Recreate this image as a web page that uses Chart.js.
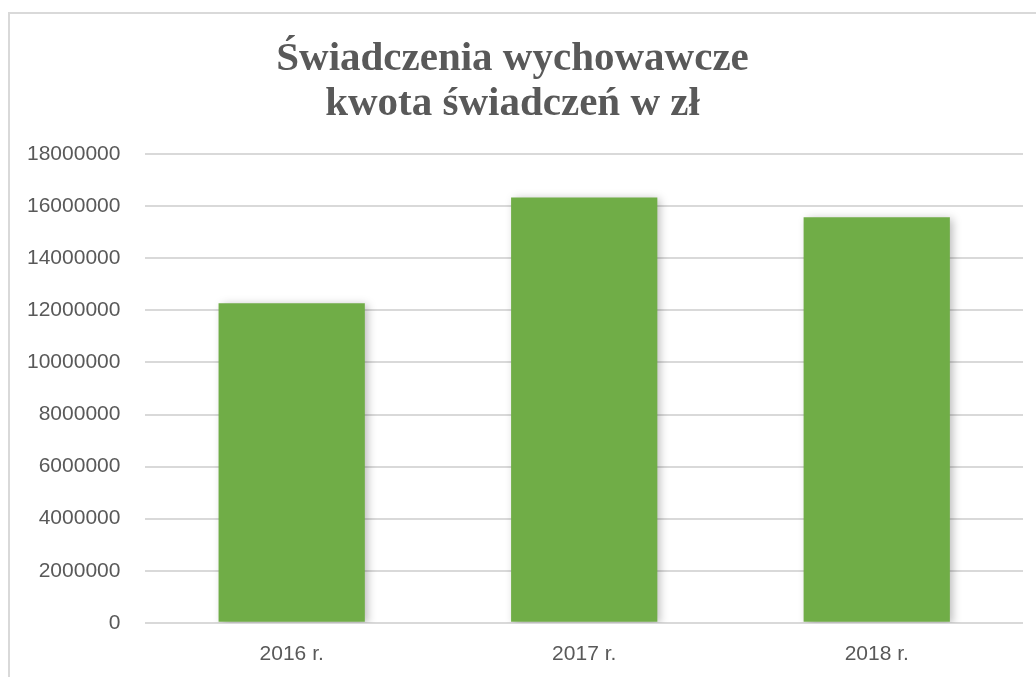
<!DOCTYPE html>
<html>
<head>
<meta charset="utf-8">
<script src="https://cdn.jsdelivr.net/npm/chart.js@4/dist/chart.umd.min.js"></script>
<style>
  html, body { margin: 0; padding: 0; background: #fff; overflow: hidden; }
  #frame {
    position: absolute; left: 8px; top: 12px; width: 1100px; height: 700px;
    border: 2px solid #d9d9d9;
  }
  /* a bit taller than the window so the plot bottom lands where the original has it */
  #wrap { position: absolute; left: 0; top: 0; width: 1036px; height: 697px; }
</style>
</head>
<body>
<div id="frame"></div>
<div id="wrap"><canvas id="chart"></canvas></div>
<script>
// Years and amounts (zł)
const years = ['2016 r.', '2017 r.', '2018 r.'];
const amounts = [12270000, 16340000, 15580000];
const yMax = 18000000;
const yStep = 2000000;

// soft drop shadow under the bars, like the office chart
const barShadow = {
    id: 'barShadow',
    beforeDatasetsDraw(chart) {
        const ctx = chart.ctx;
        ctx.save();
        ctx.shadowColor = 'rgba(0, 0, 0, 0.28)';
        ctx.shadowBlur = 9;
        ctx.shadowOffsetX = 3;
        ctx.shadowOffsetY = 2;
    },
    afterDatasetsDraw(chart) {
        chart.ctx.restore();
    }
};

const ctx = document.getElementById('chart').getContext('2d');
new Chart(ctx, {
    type: 'bar',
    data: {
        labels: years,
        datasets: [{
            label: 'kwota świadczeń',
            data: amounts,
            backgroundColor: '#70ad47',
            borderWidth: 0,
            barPercentage: 0.5,
            categoryPercentage: 1.0
        }]
    },
    options: {
        responsive: true,
        maintainAspectRatio: false,
        animation: false,
        layout: { padding: { top: 12, left: 2, right: 13, bottom: 11 } },
        plugins: {
            legend: { display: false },
            tooltip: { enabled: false },
            title: {
                display: true,
                text: ['Świadczenia wychowawcze', 'kwota świadczeń w zł'],
                color: '#595959',
                font: { family: '"Liberation Serif", "DejaVu Serif", serif', size: 41, weight: 'bold', lineHeight: 1.1 },
                padding: { top: 25, bottom: 27 }
            }
        },
        scales: {
            x: {
                grid: { display: false, drawTicks: false },
                border: { display: false },
                ticks: {
                    color: '#595959',
                    padding: 19,
                    font: { family: '"Liberation Sans", Arial, sans-serif', size: 21 }
                }
            },
            y: {
                min: 0,
                max: yMax,
                grid: { color: '#d9d9d9', lineWidth: 2, drawTicks: false },
                border: { display: false },
                ticks: {
                    stepSize: yStep,
                    color: '#595959',
                    padding: 25,
                    font: { family: '"Liberation Sans", Arial, sans-serif', size: 21 },
                    callback: (v) => String(v)
                }
            }
        }
    },
    plugins: [barShadow]
});
</script>
</body>
</html>
